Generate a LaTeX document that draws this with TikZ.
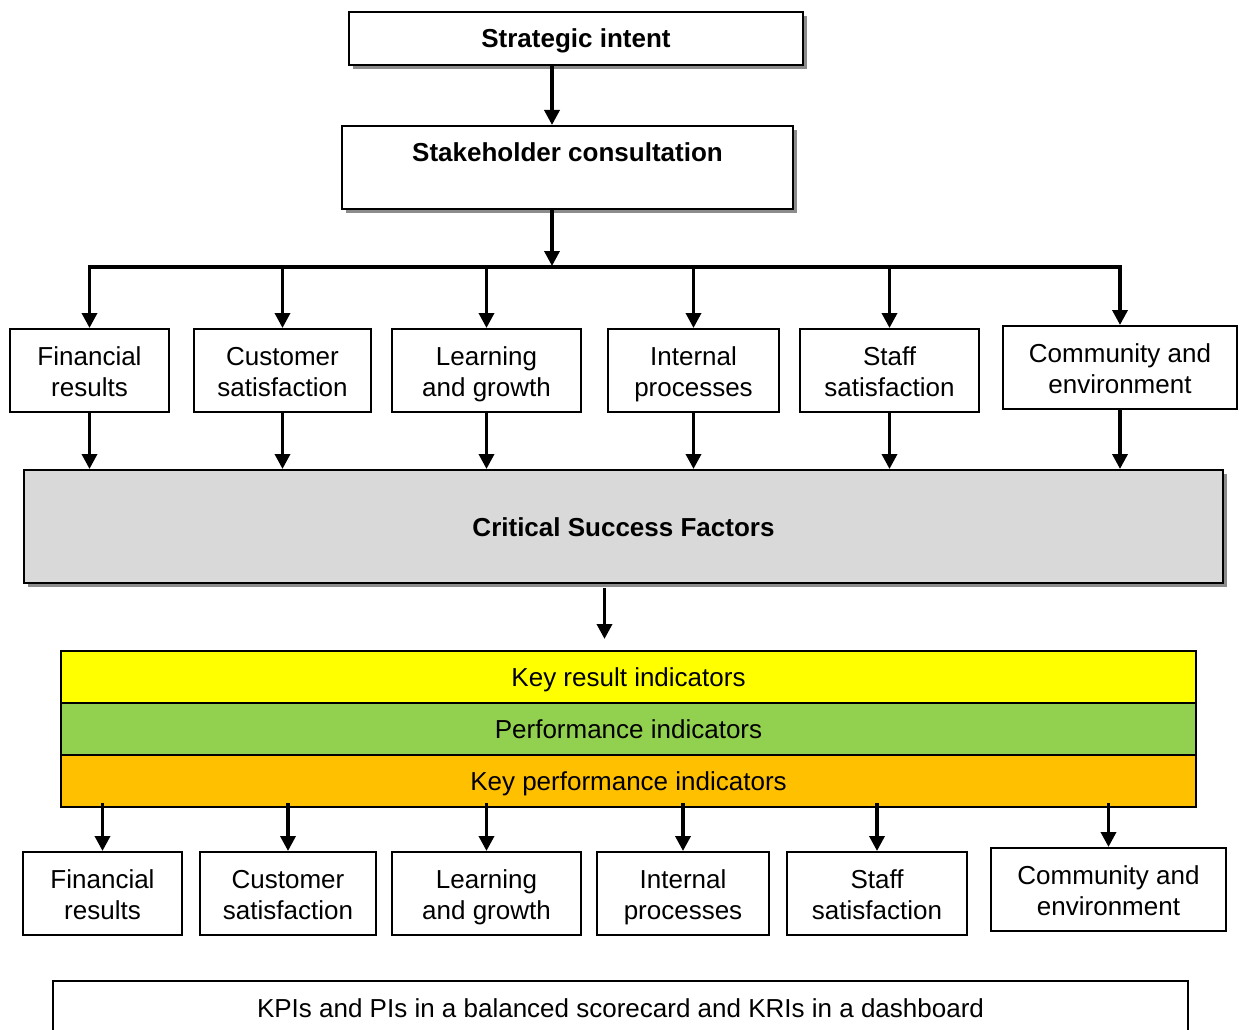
\documentclass[tikz,border=0pt]{standalone}
\usepackage{fontspec}
\setmainfont{Liberation Sans}
\usetikzlibrary{arrows.meta,positioning,shadows}

\definecolor{kriyellow}{HTML}{FFFF00}
\definecolor{pigreen}{HTML}{92D050}
\definecolor{kpiorange}{HTML}{FFC000}
\newcommand\bodyfont{\fontsize{26}{31}\selectfont}

\begin{document}
\begin{tikzpicture}[x=1pt, y=-1pt, font=\bodyfont,
    box/.style={draw, line width=1.5pt, fill=white, align=center, inner sep=0pt, outer sep=0pt, minimum height=83pt,
      text height=55pt, text depth=3pt},
    boldbox/.style={box, font=\bodyfont\bfseries, text height=19pt, text depth=0pt},
    shadowed/.style={drop shadow={shadow xshift=4pt, shadow yshift=-4pt, fill=black!45, opacity=1}},
    band/.style={draw, line width=2pt, minimum width=1135pt, minimum height=52pt, inner sep=0pt, outer sep=0pt,
      text height=19pt, text depth=0pt},
    arrow/.style={-{Triangle[length=15pt,width=15pt]}, line width=3.5pt, shorten >=1pt}]

  \useasboundingbox (0,0) rectangle (1243,1030);
  \clip (0,0) rectangle (1243,1030);

  % top of the chain
  \node[boldbox, shadowed, minimum width=454pt, minimum height=53pt] (strat) at (576,38.5) {Strategic intent};
  \node[boldbox, shadowed, minimum width=451pt, text height=50pt, text depth=0pt] (stake) at (567.5,167.5) {Stakeholder consultation\\~};
  \coordinate (split) at (552,267);

  % perspectives
  \node[box, minimum width=159pt] (fin1) at (89.5,370.5) {Financial\\results};
  \node[box, minimum width=177pt] (cust1) at (282.5,370.5) {Customer\\satisfaction};
  \node[box, minimum width=189pt] (learn1) at (486.5,370.5) {Learning\\and growth};
  \node[box, minimum width=171pt] (int1) at (693.5,370.5) {Internal\\processes};
  \node[box, minimum width=179pt] (staff1) at (889.5,370.5) {Staff\\satisfaction};
  \node[box, minimum width=234pt] (comm1) at (1120,367.5) {Community and\\environment};

  \node[boldbox, shadowed, fill=black!15, minimum width=1199pt, minimum height=113pt] (csf) at (623.5,526.5) {Critical Success Factors};

  % indicator bands
  \node[band, fill=kriyellow] (kri) at (628.5,677) {Key result indicators};
  \node[band, fill=pigreen, below=0pt of kri] (pi) {Performance indicators};
  \node[band, fill=kpiorange, below=0pt of pi] (kpi) {Key performance indicators};

  \node[box, minimum width=159pt] (fin2) at (102.5,893.5) {Financial\\results};
  \node[box, minimum width=176pt] (cust2) at (288,893.5) {Customer\\satisfaction};
  \node[box, minimum width=189pt] (learn2) at (486.5,893.5) {Learning\\and growth};
  \node[box, minimum width=172pt] (int2) at (683,893.5) {Internal\\processes};
  \node[box, minimum width=180pt] (staff2) at (877,893.5) {Staff\\satisfaction};
  \node[box, minimum width=235pt] (comm2) at (1108.5,889.5) {Community and\\environment};

  \node[box, minimum width=1135pt, minimum height=54pt, text height=19pt, text depth=0pt] (note) at (620.5,1008) {KPIs and PIs in a balanced scorecard and KRIs in a dashboard};

  \path[arrow]
    (strat.south -| split) edge (stake.north -| split)
    (stake.south -| split) edge (split);

  \draw[arrow] (split) -| (fin1);
  \draw[arrow] (split) -| (cust1);
  \draw[arrow] (split) -| (learn1);
  \draw[arrow] (split) -| (int1);
  \draw[arrow] (split) -| (staff1);
  \draw[arrow] (split) -| (comm1);

  \path[arrow]
    (fin1) edge (fin1 |- csf.north)
    (cust1) edge (cust1 |- csf.north)
    (learn1) edge (learn1 |- csf.north)
    (int1) edge (int1 |- csf.north)
    (staff1) edge (staff1 |- csf.north)
    (comm1) edge (comm1 |- csf.north);

  \draw[arrow] ([xshift=-19pt,yshift=-5pt]csf.south) -- ([xshift=-24pt,yshift=11pt]kri.north);

  \path[arrow]
    ([yshift=4pt]fin2 |- kpi.south) edge (fin2)
    ([yshift=4pt]cust2 |- kpi.south) edge (cust2)
    ([yshift=4pt]learn2 |- kpi.south) edge (learn2)
    ([yshift=4pt]int2 |- kpi.south) edge (int2)
    ([yshift=4pt]staff2 |- kpi.south) edge (staff2)
    ([yshift=4pt]comm2 |- kpi.south) edge (comm2);
\end{tikzpicture}
\end{document}
